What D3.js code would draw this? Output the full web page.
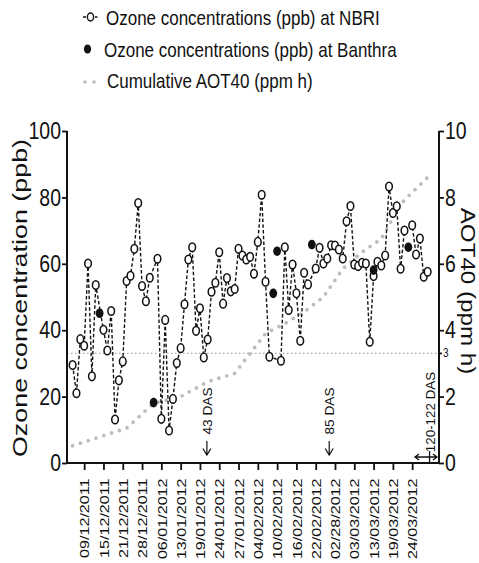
<!DOCTYPE html>
<html>
<head>
<meta charset="utf-8">
<script src="https://cdn.jsdelivr.net/npm/d3@7"></script>
<style>
  html, body { margin: 0; padding: 0; background: #fff; }
  svg { display: block; }
  text { font-family: "Liberation Sans", Arial, Helvetica, sans-serif; fill: #111; }
</style>
</head>
<body>
<svg id="chart" width="479" height="563"></svg>
<script>
// ---------------- DATA ----------------
// NBRI daily ozone (ppb), one value per sampling-day index (null = no NBRI point)
const nbriOzone = [
  29.5, 21, 37.3, 35.3, 60.1, 26.1, 53.6, null, 40.1, 33.9,
  45.8, 13.1, 24.9, 30.6, 54.8, 56.4, 64.5, 78.3, 53.3, 48.7,
  55.8, null, 61.5, 13.3, 43.1, 9.8, 19.3, 30.1, 34.6, 47.8,
  61.3, 65, 39.8, 46.6, 31.8, 37.2, 51.6, 54.3, 63.5, 48,
  55.7, 51.7, 52.4, 64.5, 62.5, 61.3, 62.1, 57, 66.6, 80.8,
  54.6, 32, null, null, 30.8, 65, 46.1, 59.8, 51.1, 36.8,
  57.3, 53.8, null, 58.6, 64.8, 60.1, 61.6, 65.6, 65.5, 64.3,
  61.6, 72.8, 77.4, 59.8, 59.3, 60.3, 60.1, 36.5, 56.3, 60.6,
  59.5, 62.5, 83.3, 75.3, 77.3, 58.5, 70, null, 71.6, 62.8,
  67.6, 56.1, 57.6
];
// Banthra ozone (ppb)
const banthraIndex = [7, 21, 52, 53, 62, 78, 87];
const banthraOzone = [45.1, 18.2, 51.1, 63.8, 65.8, 58.1, 65];
// Cumulative AOT40 (ppm h)
const aotIndex = [0, 10, 14, 21, 28, 35, 42, 46, 50, 55, 60, 65, 70, 75, 80, 85, 88, 92];
const aotValue = [0.52, 0.9, 1.05, 1.8, 2.0, 2.45, 2.7, 3.3, 3.9, 4.2, 4.55, 5.0, 5.85, 6.35, 6.75, 7.8, 8.15, 8.6];
// x tick labels (every 5th sampling day)
const dateTickIndex = [3, 8, 13, 18, 23, 28, 33, 38, 43, 48, 53, 58, 63, 68, 73, 78, 83, 88];
const dateTickLabels = [
  "09/12/2011", "15/12/2011", "21/12/2011", "28/12/2011", "06/01/2012", "13/01/2012",
  "19/01/2012", "24/01/2012", "27/01/2012", "04/02/2012", "10/02/2012", "16/02/2012",
  "22/02/2012", "02/28/2012", "03/03/2012", "13/03/2012", "19/03/2012", "24/03/2012"
];
const leftTicks = [0, 20, 40, 60, 80, 100];
const rightTicks = [0, 2, 4, 6, 8, 10];
const thresholdValue = 3.3;   // dotted reference level (right axis)
const thresholdLabel = "3";
// stage annotations (position on x in day index)
const stageIndex = [34.8, 66.5];
const stageLabels = ["43 DAS", "85 DAS"];
const finalStageIndex = 92.5;
const finalStageLabel = "120-122 DAS";
const legendLabels = [
  "Ozone concentrations (ppb) at NBRI",
  "Ozone concentrations (ppb) at Banthra",
  "Cumulative AOT40 (ppm h)"
];

// ---------------- LAYOUT ----------------
const svg = d3.select("#chart");
const L = 67, R = 439, T = 131, B = 463;
const x = d3.scaleLinear().domain([-1.45, 94.95]).range([L, R]);
const yL = d3.scaleLinear().domain([0, 100]).range([B, T]);
const yR = d3.scaleLinear().domain([0, 10]).range([B, T]);
const VS = 1.24; // vertical stretch of the original picture

// threshold dotted line
svg.append("line")
  .attr("x1", L).attr("x2", R)
  .attr("y1", yR(thresholdValue)).attr("y2", yR(thresholdValue))
  .attr("stroke", "#aaa").attr("stroke-width", 1.3)
  .attr("stroke-dasharray", "1.5,2.5");

// AOT40 gray dotted line
const aotData = aotIndex.map((d, i) => [d, aotValue[i]]);
svg.append("path")
  .datum(aotData)
  .attr("d", d3.line().x(d => x(d[0])).y(d => yR(d[1])))
  .attr("fill", "none").attr("stroke", "#bdbdbd")
  .attr("stroke-width", 3.8).attr("stroke-linecap", "round")
  .attr("stroke-dasharray", "0,8.2");

// NBRI dashed line + markers
const nbriData = nbriOzone.map((v, i) => [i, v]).filter(d => d[1] !== null);
svg.append("path")
  .datum(nbriData)
  .attr("d", d3.line().x(d => x(d[0])).y(d => yL(d[1])))
  .attr("fill", "none").attr("stroke", "#111")
  .attr("stroke-width", 1.4).attr("stroke-dasharray", "3.5,2.2");

svg.append("g").selectAll("ellipse").data(nbriData).join("ellipse")
  .attr("cx", d => x(d[0])).attr("cy", d => yL(d[1]))
  .attr("rx", 3.3).attr("ry", 4.3)
  .attr("fill", "#fff").attr("stroke", "#111").attr("stroke-width", 1.5);

const banData = banthraIndex.map((d, i) => [d, banthraOzone[i]]);
svg.append("g").selectAll("ellipse").data(banData).join("ellipse")
  .attr("cx", d => x(d[0])).attr("cy", d => yL(d[1]))
  .attr("rx", 3.9).attr("ry", 4.8)
  .attr("fill", "#111");

// ---------------- AXES ----------------
const axisStyle = g => {
  g.select(".domain").remove();
  g.selectAll(".tick line").attr("stroke", "#111").attr("stroke-width", 1.8);
};

// left axis
const gl = svg.append("g").attr("transform", `translate(${L},0)`)
  .call(d3.axisLeft(yL).tickValues(leftTicks).tickSize(5).tickPadding(1))
  .call(axisStyle);
gl.selectAll(".tick text").attr("font-size", 19.5)
  .attr("font-family", "Liberation Sans, Arial, sans-serif")
  .attr("fill", "#111")
  .attr("transform", `scale(1,${VS})`);

// right axis
const gr = svg.append("g").attr("transform", `translate(${R},0)`)
  .call(d3.axisRight(yR).tickValues(rightTicks).tickSize(5).tickPadding(1))
  .call(axisStyle);
gr.selectAll(".tick text").attr("font-size", 19.5)
  .attr("font-family", "Liberation Sans, Arial, sans-serif")
  .attr("fill", "#111")
  .attr("transform", `scale(1,${VS})`);
// small threshold tick and label
svg.append("line").attr("x1", R).attr("x2", R + 3)
  .attr("y1", yR(thresholdValue)).attr("y2", yR(thresholdValue))
  .attr("stroke", "#111").attr("stroke-width", 1.8);
svg.append("text")
  .attr("transform", `translate(${R + 4},${yR(thresholdValue) + 4}) scale(1,${VS})`)
  .attr("font-size", 10).text(thresholdLabel);

// bottom axis
const gb = svg.append("g").attr("transform", `translate(0,${B})`)
  .call(d3.axisBottom(x).tickValues(dateTickIndex)
    .tickFormat((d, i) => dateTickLabels[i]).tickSize(7))
  .call(axisStyle);
gb.selectAll(".tick text")
  .attr("font-size", 13)
  .attr("font-family", "Liberation Sans, Arial, sans-serif")
  .attr("fill", "#111")
  .attr("text-anchor", "end")
  .attr("x", -12.5).attr("y", 0).attr("dy", "0.36em")
  .attr("transform", `rotate(-90) scale(${VS},1)`);

// axis frame lines
svg.append("path")
  .attr("d", `M${L},${T}V${B}H${R}V${T}`)
  .attr("fill", "none").attr("stroke", "#111").attr("stroke-width", 2);

// axis titles
svg.append("text")
  .attr("transform", `translate(27,298) rotate(-90) scale(1.28,1)`)
  .attr("text-anchor", "middle").attr("font-size", 21)
  .text("Ozone concentration (ppb)");
svg.append("text")
  .attr("transform", `translate(461,291) rotate(90) scale(1.24,1)`)
  .attr("text-anchor", "middle").attr("font-size", 19.5)
  .text("AOT40 (ppm h)");

// ---------------- ANNOTATIONS ----------------
stageIndex.forEach((si, k) => {
  const cx = x(si);
  svg.append("text")
    .attr("transform", `translate(${cx + 5},411) rotate(-90) scale(1.05,1)`)
    .attr("text-anchor", "middle").attr("font-size", 13)
    .text(stageLabels[k]);
  svg.append("path")
    .attr("d", `M${cx},441V455M${cx - 4},448.5L${cx},455L${cx + 4},448.5`)
    .attr("fill", "none").attr("stroke", "#111").attr("stroke-width", 1.2);
});
{
  const cx = x(finalStageIndex);
  svg.append("text")
    .attr("transform", `translate(${cx + 5},412) rotate(-90) scale(1.03,1)`)
    .attr("text-anchor", "middle").attr("font-size", 13)
    .text(finalStageLabel);
  svg.append("path")
    .attr("d", `M415,457H437M419,454L415,457L419,460M433,454L437,457L433,460M${cx},451V463`)
    .attr("fill", "none").attr("stroke", "#111").attr("stroke-width", 1.3);
}

// ---------------- LEGEND ----------------
const lg = svg.append("g");
// row 1: open circle with dashes
lg.append("path").attr("d", "M83,17H86M95,17H97.5")
  .attr("stroke", "#111").attr("stroke-width", 1.3);
lg.append("ellipse").attr("cx", 90.5).attr("cy", 17).attr("rx", 3.1).attr("ry", 4)
  .attr("fill", "#fff").attr("stroke", "#111").attr("stroke-width", 1.4);
// row 2: filled
lg.append("ellipse").attr("cx", 87.5).attr("cy", 49).attr("rx", 3.6).attr("ry", 4.6)
  .attr("fill", "#111");
// row 3: gray dots
[85, 94].forEach(cx => lg.append("circle").attr("cx", cx).attr("cy", 82).attr("r", 1.8)
  .attr("fill", "#bdbdbd"));
const legPos = [[106, 25], [104, 56.5], [107, 88]];
legendLabels.forEach((t, i) => {
  lg.append("text")
    .attr("transform", `translate(${legPos[i][0]},${legPos[i][1]}) scale(1,${VS})`)
    .attr("font-size", 17).text(t);
});
</script>
</body>
</html>
